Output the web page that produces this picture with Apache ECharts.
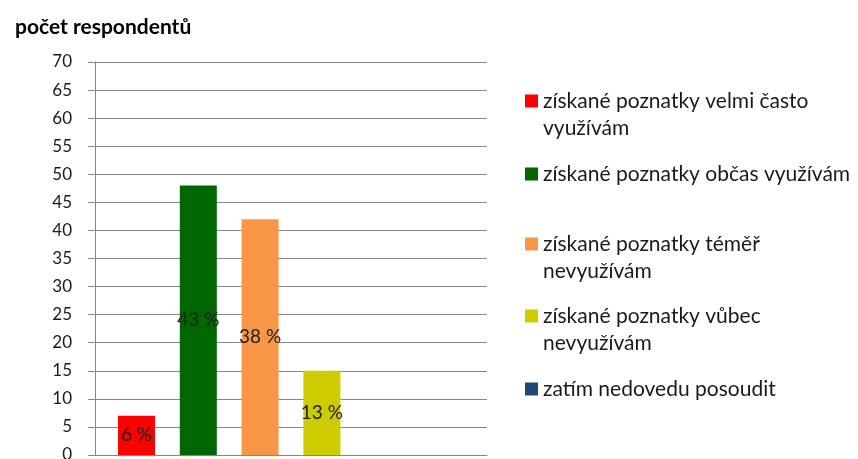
<!DOCTYPE html>
<html>
<head>
<meta charset="utf-8">
<script src="https://cdn.jsdelivr.net/npm/echarts@6/dist/echarts.min.js"></script>
<style>
html, body { margin: 0; padding: 0; background: #fff; }
#chart { width: 858px; height: 459px; }
</style>
</head>
<body>
<div id="chart"></div>
<script>
var seriesNames = [
  'získané poznatky velmi často využívám',
  'získané poznatky občas využívám',
  'získané poznatky téměř nevyužívám',
  'získané poznatky vůbec nevyužívám',
  'zatím nedovedu posoudit'
]
var counts = [7, 48, 42, 15, 0]
var colors = ['#ff0000', '#006600', '#f79646', '#cccc00', '#1f497d']

// legend entries broken over lines the way the original shows them
var legendLines = [
  ['získané poznatky velmi často', 'využívám'],
  ['získané poznatky občas využívám'],
  ['získané poznatky téměř', 'nevyužívám'],
  ['získané poznatky vůbec', 'nevyužívám'],
  ['zatím nedovedu posoudit']
]
// vertical centre of each legend marker
var legendRows = [101, 174, 244, 316, 389]

var total = counts.reduce(function (a, b) { return a + b }, 0)
var font = 'Lato, "Open Sans", sans-serif'
var lineH = 27

var chart = echarts.init(document.getElementById('chart'))

var series = seriesNames.map(function (name, i) {
  return {
    name: name,
    type: 'bar',
    data: [counts[i]],
    barWidth: 37,
    barGap: '67%',
    itemStyle: { color: colors[i] },
    label: {
      show: counts[i] > 0,
      position: 'inside',
      formatter: function (p) { return Math.round(p.value / total * 100) + ' %' },
      color: '#222',
      fontSize: 19,
      fontFamily: font
    }
  }
})
// the original leaves room for one more (empty) column on the right
series.push({ name: '', type: 'bar', data: [], barWidth: 37, barGap: '67%', silent: true })

var legends = seriesNames.map(function (name, i) {
  var lines = legendLines[i]
  // an empty line on top keeps the marker level with the first line of text
  var text = lines.length > 1 ? '\n' + lines.join('\n') : lines[0]
  var half = (lines.length > 1 ? 3 : 1) * lineH / 2
  return {
    data: [name],
    orient: 'vertical',
    left: 520,
    top: legendRows[i] - half - 5,
    icon: 'rect',
    itemWidth: 13,
    itemHeight: 13,
    selectedMode: false,
    formatter: function () { return text },
    textStyle: {
      fontFamily: font,
      fontSize: 21,
      color: '#1a1a1a',
      lineHeight: lineH
    }
  }
})

var option = {
  animation: false,
  title: {
    text: 'počet respondentů',
    left: 10,
    top: 12,
    textStyle: { fontFamily: font, fontWeight: 'bold', fontSize: 21, color: '#000' }
  },
  legend: legends,
  grid: { left: 95, right: 371, top: 62, bottom: 4, outerBoundsMode: 'none' },
  xAxis: {
    type: 'category',
    data: [''],
    axisLine: { lineStyle: { color: '#868686' } },
    axisTick: { show: false },
    axisLabel: { show: false }
  },
  yAxis: {
    type: 'value',
    min: 0,
    max: 70,
    interval: 5,
    axisLine: { show: true, lineStyle: { color: '#868686' } },
    axisTick: { show: true, length: 7, lineStyle: { color: '#868686' } },
    axisLabel: { margin: 23, fontFamily: font, fontSize: 17, color: '#1a1a1a' },
    splitLine: { lineStyle: { color: '#868686' } }
  },
  series: series
}

chart.setOption(option)
</script>
</body>
</html>
